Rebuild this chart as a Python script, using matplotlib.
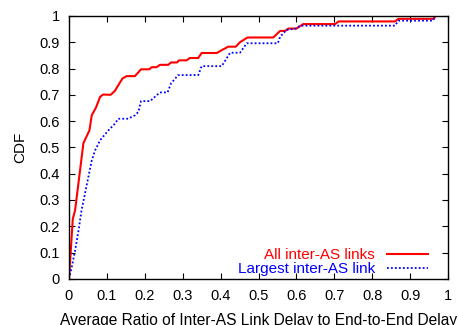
import numpy as np
import matplotlib
matplotlib.use('Agg')
import matplotlib.pyplot as plt

plt.rcParams['font.family'] = ['Liberation Sans', 'DejaVu Sans']

# CDF of ratio, all inter-AS links
all_x = [0.0, 0.01, 0.016, 0.038, 0.054, 0.06, 0.071, 0.082, 0.09, 0.11, 0.121, 0.141, 0.152,
         0.174, 0.19, 0.212, 0.218, 0.231, 0.24, 0.262, 0.269, 0.285, 0.29, 0.31, 0.319,
         0.341, 0.35, 0.39, 0.407, 0.42, 0.44, 0.451, 0.471, 0.539, 0.557, 0.57, 0.579,
         0.60, 0.618, 0.702, 0.711, 0.86, 0.869, 0.961, 0.968]
all_y = [0.0, 0.228, 0.26, 0.516, 0.565, 0.622, 0.651, 0.692, 0.701, 0.70, 0.715, 0.762, 0.771,
         0.771, 0.797, 0.797, 0.805, 0.805, 0.814, 0.814, 0.823, 0.823, 0.831, 0.831, 0.84,
         0.84, 0.859, 0.859, 0.873, 0.883, 0.883, 0.90, 0.918, 0.918, 0.943, 0.943, 0.952,
         0.952, 0.969, 0.969, 0.979, 0.979, 0.989, 0.989, 1.0]

# CDF of ratio, largest inter-AS link
big_x = [0.0, 0.007, 0.016, 0.025, 0.033, 0.042, 0.051, 0.06, 0.069, 0.082, 0.104, 0.121,
         0.13, 0.156, 0.174, 0.183, 0.19, 0.214, 0.231, 0.24, 0.26, 0.269, 0.288, 0.341,
         0.35, 0.403, 0.425, 0.451, 0.469, 0.551, 0.557, 0.574, 0.60, 0.61, 0.86, 0.869,
         0.96, 0.968]
big_y = [0.0, 0.043, 0.107, 0.183, 0.26, 0.323, 0.387, 0.45, 0.489, 0.527, 0.565, 0.59,
         0.609, 0.609, 0.622, 0.635, 0.676, 0.676, 0.698, 0.709, 0.709, 0.743, 0.775, 0.775,
         0.809, 0.809, 0.86, 0.86, 0.896, 0.896, 0.921, 0.947, 0.952, 0.963, 0.963, 0.982,
         0.982, 1.0]

tick_lbls = ['0', '0.1', '0.2', '0.3', '0.4', '0.5', '0.6', '0.7', '0.8', '0.9', '1']

fig = plt.figure(figsize=(4.6, 3.25), dpi=100)
ax = fig.add_axes([0.15, 0.142, 0.824, 0.809])

ax.plot(all_x, all_y, color='#ff0000', lw=1.5, label='All inter-AS links')
ax.plot(big_x, big_y, color='#0000ff', lw=1.3, ls=(0, (1, 1.2)), label='Largest inter-AS link')

ax.set_xlim(0, 1)
ax.set_ylim(0, 1)
ax.set_xticks(np.arange(0, 1.01, 0.1))
ax.set_yticks(np.arange(0, 1.01, 0.1))
ax.set_xticklabels(tick_lbls)
ax.set_yticklabels(tick_lbls)
ax.tick_params(direction='in', top=True, right=True, length=4, labelsize=10.5)
ax.tick_params(axis='x', pad=7.5)
ax.tick_params(axis='y', pad=6.5)
for s in ax.spines.values():
    s.set_linewidth(1.0)

ax.set_xlabel('Average Ratio of Inter-AS Link Delay to End-to-End Delay', fontsize=11.2, labelpad=7)
ax.set_ylabel('CDF', fontsize=11, labelpad=9)

leg = ax.legend(loc='lower right', bbox_to_anchor=(0.976, -0.031), frameon=False,
                markerfirst=False, fontsize=11, handlelength=2.7, labelcolor='linecolor',
                borderaxespad=0.3, labelspacing=0.0, handletextpad=0.8)
for t in leg.get_texts():
    t.set_ha('right')

fig.savefig('out.png', dpi=100)
plt.close(fig)
